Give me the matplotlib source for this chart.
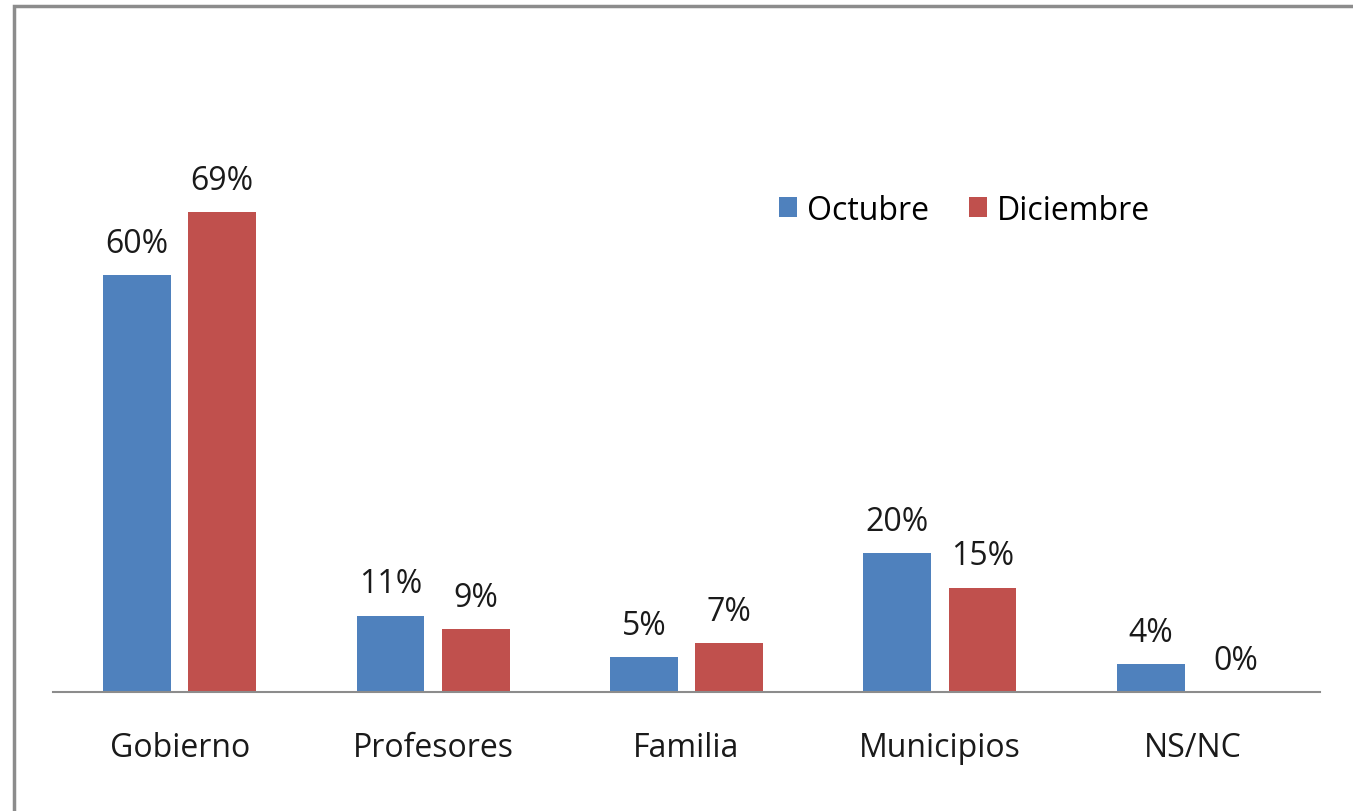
import numpy as np
import matplotlib
matplotlib.use('Agg')
import matplotlib.pyplot as plt
from matplotlib.patches import Rectangle

categories = ['Gobierno', 'Profesores', 'Familia', 'Municipios', 'NS/NC']
octubre = [60, 11, 5, 20, 4]
diciembre = [69, 9, 7, 15, 0]
series_names = ['Octubre', 'Diciembre']

blue = '#4F81BD'
red = '#C0504D'
W, H = 1353, 812

plt.rcParams['font.family'] = ['Open Sans', 'DejaVu Sans']

fig = plt.figure(figsize=(W / 100, H / 100), dpi=100)
ax = fig.add_axes([53 / W, (H - 693) / H, (1320 - 53) / W, (693 - 137) / H])

# gray frame around the chart (right/bottom run off the picture)
fig.patches.append(Rectangle((13.5 / W, -0.05), 1.2, (H - 6.5) / H + 0.05,
                             transform=fig.transFigure, fill=False,
                             edgecolor='#8c8c8c', linewidth=2.5))

x = np.arange(len(categories))
bw = 0.268
off = 0.168
b1 = ax.bar(x - off, octubre, bw, color=blue, label=series_names[0])
b2 = ax.bar(x + off, diciembre, bw, color=red, label=series_names[1])

for bars, vals in ((b1, octubre), (b2, diciembre)):
    for b, v in zip(bars, vals):
        ax.annotate(f'{v}%', (b.get_x() + b.get_width() / 2, v),
                    xytext=(0, 11), textcoords='offset points',
                    ha='center', va='bottom', fontsize=23, color='#1a1a1a')

ax.set_xlim(-0.5, len(categories) - 0.5)
ax.set_ylim(0, 80)
ax.set_yticks([])
ax.set_xticks(x)
ax.set_xticklabels(categories, fontsize=23, color='#1a1a1a')
ax.tick_params(axis='x', length=0, pad=28)
for s in ['top', 'right', 'left']:
    ax.spines[s].set_visible(False)
ax.spines['bottom'].set_color('#8c8c8c')
ax.spines['bottom'].set_linewidth(1.5)

ax.legend(loc='center left', bbox_to_anchor=(766 / W, (H - 211) / H),
          bbox_transform=fig.transFigure, ncol=2, frameon=False,
          fontsize=23, handlelength=0.58, handleheight=0.58,
          handletextpad=0.3, columnspacing=1.25, borderaxespad=0)

fig.savefig('out.png', dpi=100)
